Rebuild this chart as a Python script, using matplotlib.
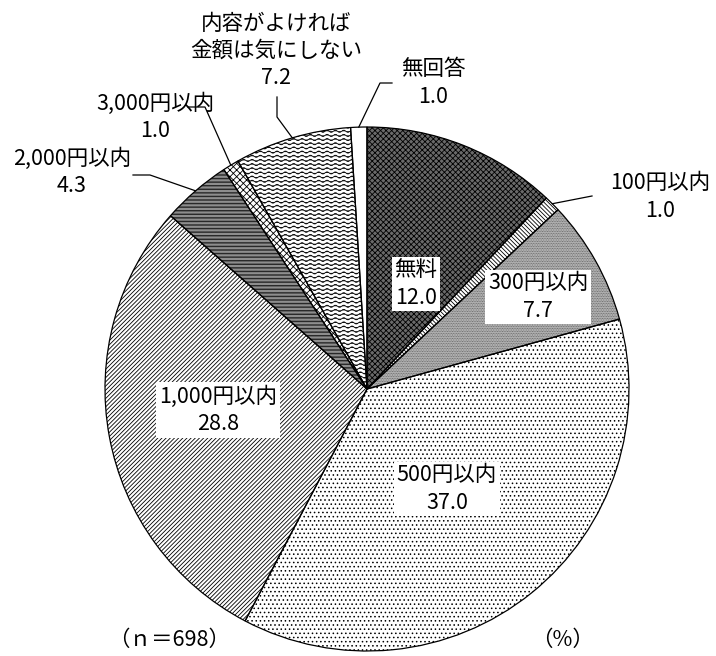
import numpy as np
import matplotlib
matplotlib.use("Agg")
import matplotlib.pyplot as plt
import matplotlib.hatch as mhatch
from matplotlib.path import Path
from matplotlib.patches import Wedge

plt.rcParams['font.family'] = ['Noto Sans CJK JP', 'DejaVu Sans']
plt.rcParams['hatch.linewidth'] = 0.6

# data
labels = ['無料', '100円以内', '300円以内', '500円以内', '1,000円以内',
          '2,000円以内', '3,000円以内', '内容がよければ\n金額は気にしない', '無回答']
values = [12.0, 1.0, 7.7, 37.0, 28.8, 4.3, 1.0, 7.2, 1.0]
n_total = 698


# wavy hatch pattern, used through the 'O' character
class Wavy(mhatch.HatchPatternBase):
    def __init__(self, hatch, density):
        self.num_lines = int(hatch.count('O') * density)
        self.periods = 12
        self.pts = self.periods * 6 + 1
        self.num_vertices = self.num_lines * self.pts

    def set_vertices_and_codes(self, vertices, codes):
        x = np.linspace(0, 1, self.pts)
        k = 0
        for i in range(self.num_lines):
            y = (i + 0.5) / self.num_lines + 0.011 * np.sin(2 * np.pi * self.periods * x)
            vertices[k:k + self.pts, 0] = x
            vertices[k:k + self.pts, 1] = y
            codes[k] = Path.MOVETO
            codes[k + 1:k + self.pts] = Path.LINETO
            k += self.pts


mhatch._hatch_types = [t for t in mhatch._hatch_types
                       if t is not mhatch.LargeCircles] + [Wavy]

# (facecolor, hatch, hatch colour)
styles = [
    ('#6a6a6a', 'xxxxxx', 'black'),
    ('white', '\\' * 8, 'black'),
    ('#c4c4c4', '.' * 10, '#555555'),
    ('white', '....', 'black'),
    ('white', '/' * 8, 'black'),
    ('white', '-' * 12, 'black'),
    ('white', 'xxxxx', 'black'),
    ('white', 'OOOO', 'black'),
    ('white', '', 'black'),
]

W, H = 716, 656
fig = plt.figure(figsize=(W / 100, H / 100), dpi=100)
ax = fig.add_axes([0, 0, 1, 1])


def py(y):
    return H - y


cx, cy, R = 367, py(389), 262
wedges, _ = ax.pie(values, startangle=90, counterclock=False,
                   center=(cx, cy), radius=R)
for w, (fc, hatch, hc) in zip(wedges, styles):
    w.set_facecolor(fc)
    w.set_hatch(hatch)
    w.set_edgecolor(hc)
    w.set_linewidth(0)
    ax.add_patch(Wedge(w.center, w.r, w.theta1, w.theta2, fill=False,
                       edgecolor='black', linewidth=0.9))

ax.set_xlim(0, W)
ax.set_ylim(0, H)
ax.set_aspect('equal')
ax.axis('off')

fs = 15.5
box = dict(facecolor='white', edgecolor='none', pad=2)


def txt(i, x, y, boxed=False):
    ax.text(x, py(y), f"{labels[i]}\n{values[i]:.1f}", ha='center', va='center',
            fontsize=fs, linespacing=1.3, bbox=box if boxed else None)


def anchor(i):
    w = wedges[i]
    a = np.deg2rad((w.theta1 + w.theta2) / 2)
    return w.center[0] + w.r * np.cos(a), w.center[1] + w.r * np.sin(a)


def leader(i, pts):
    x0, y0 = anchor(i)
    xs = [x0] + [p[0] for p in pts]
    ys = [y0] + [py(p[1]) for p in pts]
    ax.plot(xs, ys, color='black', lw=0.9)


# inside labels
txt(0, 416, 284, True)
txt(2, 538, 297, True)
txt(3, 447, 489, True)
txt(4, 218, 410, True)

# outside labels
txt(1, 660, 197)
leader(1, [(592, 196)])
txt(8, 433, 83)
leader(8, [(380, 83), (392, 83)])
txt(7, 276, 51)
leader(7, [(277, 117), (277, 97)])
txt(6, 155, 117)
leader(6, [(205, 107), (188, 107)])
txt(5, 72, 172)
leader(5, [(150, 175), (133, 175)])

ax.text(169, py(640), f"（ｎ＝{n_total}）", ha='center', va='center', fontsize=fs)
ax.text(563, py(640), "（%）", ha='center', va='center', fontsize=fs)

fig.savefig('out.png', dpi=100)
